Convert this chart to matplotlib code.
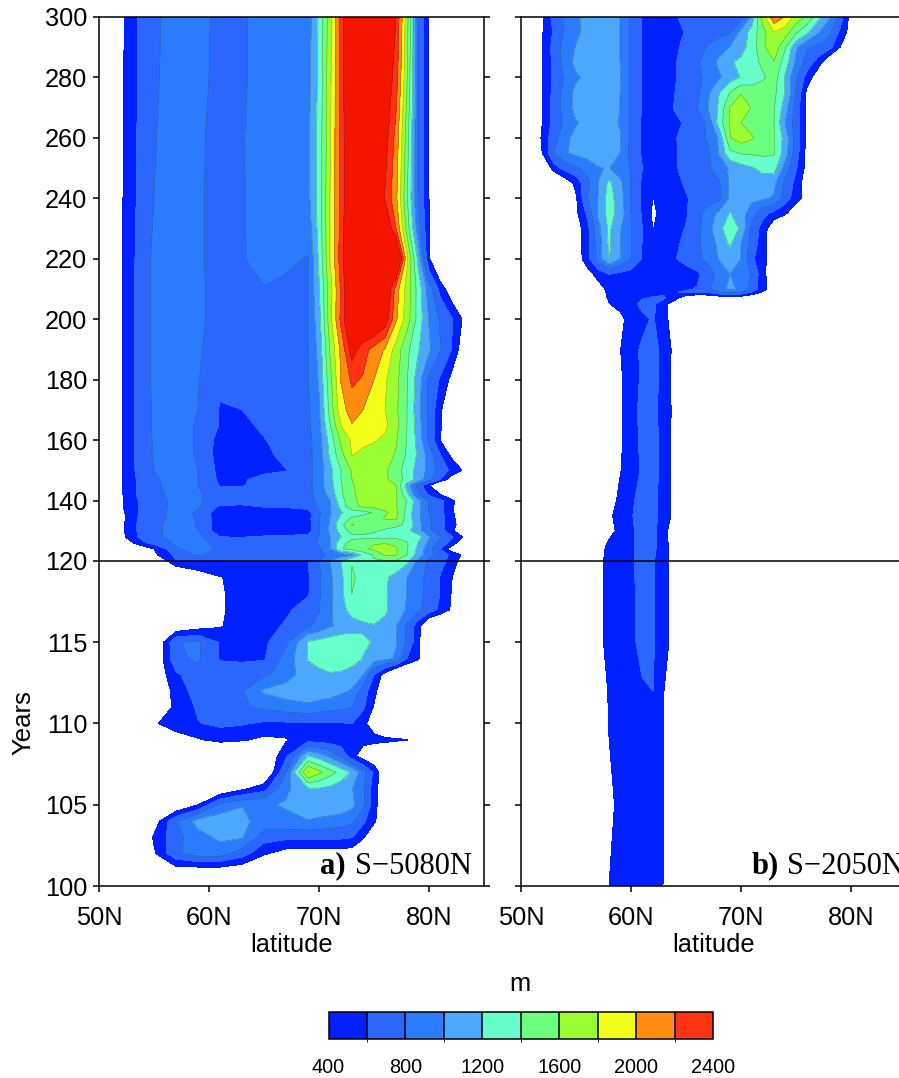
import numpy as np
import matplotlib
matplotlib.use('Agg')
import matplotlib.pyplot as plt
from matplotlib.cm import ScalarMappable
from matplotlib.colors import BoundaryNorm, ListedColormap

plt.rcParams['font.family'] = ['Liberation Sans', 'DejaVu Sans']

levels = [400, 600, 800, 1000, 1200, 1400, 1600, 1800, 2000, 2200, 2400]
colors = ['#0020ff', '#2a66ff', '#2b7bff', '#4ca8ff', '#66ffcc', '#6cff7e',
          '#99ff33', '#f2ff1a', '#ff8c0d', '#ff3312']
over_color = '#f51400'
ytick_vals = [100, 105, 110, 115, 120, 140, 160, 180, 200, 220, 240, 260, 280, 300]
xtick_vals = [50, 60, 70, 80]
xtick_labels = ['50N', '60N', '70N', '80N']

# panel a, depth (m) by year and latitude, rows may stop early (rest is 0)
lat_a = [50.5, 52, 53.5, 55, 57, 59, 61, 63, 65, 67, 69, 70, 71, 72, 73, 74, 75,
         76, 77, 78, 79, 80, 81, 82, 83, 84]
years_a = [100, 101, 102, 103, 104, 105, 106, 107, 108, 109, 110, 111, 112, 113, 114,
           115, 116, 117, 118, 119, 120, 122, 124, 126, 128, 130, 132, 134, 136, 138,
           140, 142, 145, 147, 150, 155, 160, 165, 170, 180, 190, 200, 210, 220, 230,
           240, 260, 280, 300]
depth_a = [
    [],
    [0, 0, 0, 200, 300, 300, 300, 250, 100],
    [0, 0, 0, 370, 760, 900, 900, 700, 430, 300, 300, 300, 300, 300, 280, 150],
    [0, 0, 100, 430, 740, 920, 1040, 1020, 700, 650, 650, 650, 650, 640, 610, 430, 200],
    [0, 0, 50, 270, 780, 1080, 1120, 1060, 900, 950, 990, 960, 930, 900, 850, 650, 440, 200],
    [0, 0, 0, 0, 150, 400, 850, 990, 970, 1020, 1120, 1140, 1150, 1130, 1050, 850, 480, 200],
    [0, 0, 0, 0, 0, 0, 150, 350, 520, 950, 1180, 1190, 1150, 1090, 1010, 830, 500, 200],
    [0, 0, 0, 0, 0, 0, 0, 0, 100, 800, 1830, 1650, 1480, 1330, 1170, 870, 560, 200],
    [0, 0, 0, 0, 0, 0, 0, 0, 150, 560, 1210, 1100, 950, 760, 480, 280, 200, 150, 100],
    [0, 0, 0, 0, 320, 380, 470, 430, 350, 380, 520, 500, 500, 480, 470, 470, 460, 450, 430, 410, 300],
    [0, 0, 0, 380, 480, 590, 640, 620, 570, 570, 570, 580, 580, 590, 600, 450, 300, 100],
    [0, 0, 0, 200, 450, 630, 720, 770, 840, 900, 950, 900, 870, 840, 800, 640, 380, 100],
    [0, 0, 0, 100, 500, 680, 730, 790, 1030, 1100, 1140, 1130, 1100, 1040, 980, 700, 480, 150],
    [0, 0, 0, 200, 560, 740, 720, 730, 760, 900, 1120, 1150, 1180, 1160, 1100, 1000, 600, 300],
    [0, 0, 0, 150, 760, 830, 580, 560, 580, 880, 1210, 1270, 1320, 1340, 1300, 1190, 1100, 1050, 980, 600, 440, 100],
    [0, 0, 0, 100, 790, 830, 580, 560, 560, 760, 1220, 1270, 1310, 1340, 1300, 1240, 1180, 1120, 1010, 770, 460, 100],
    [0, 0, 0, 0, 200, 300, 380, 520, 540, 620, 780, 850, 980, 1050, 1120, 1160, 1190, 1130, 1010, 770, 480, 100],
    [0, 0, 0, 0, 0, 0, 370, 480, 520, 570, 680, 790, 970, 1130, 1270, 1310, 1290, 1240, 1090, 980, 850, 700, 560, 380],
    [0, 0, 0, 0, 0, 0, 380, 460, 490, 530, 580, 780, 950, 1150, 1400, 1340, 1290, 1220, 1110, 1000, 870, 730, 600, 400],
    [0, 0, 0, 0, 0, 250, 390, 470, 520, 540, 580, 770, 960, 1150, 1420, 1350, 1300, 1230, 1130, 1000, 870, 740, 590, 450],
    [0, 0, 0, 100, 590, 600, 600, 600, 600, 590, 590, 800, 1000, 1200, 1390, 1390, 1380, 1380, 1380, 1250, 950, 760, 670, 540, 300],
    [0, 0, 50, 350, 650, 830, 720, 700, 700, 700, 660, 760, 830, 900, 980, 1250, 1430, 1620, 1620, 1400, 1120, 870, 720, 560, 380, 100],
    [0, 0, 150, 400, 770, 900, 760, 720, 720, 720, 720, 770, 980, 1380, 1480, 1560, 1640, 1690, 1620, 1420, 1150, 880, 600, 300],
    [0, 100, 500, 680, 830, 870, 730, 720, 720, 720, 740, 820, 1000, 1320, 1480, 1540, 1580, 1590, 1570, 1420, 1200, 950, 750, 550, 250],
    [100, 330, 600, 740, 890, 860, 600, 590, 620, 630, 660, 800, 1000, 1190, 1330, 1340, 1340, 1340, 1330, 1320, 1280, 1020, 820, 640, 420, 100],
    [100, 340, 610, 750, 880, 800, 480, 470, 480, 490, 520, 790, 1030, 1280, 1490, 1500, 1430, 1370, 1320, 1260, 1070, 840, 680, 500, 150],
    [110, 340, 610, 750, 880, 790, 470, 460, 470, 480, 520, 800, 1020, 1340, 1610, 1560, 1500, 1480, 1450, 1360, 1070, 830, 650, 530, 250],
    [110, 330, 600, 730, 860, 790, 470, 460, 470, 490, 530, 790, 1000, 1250, 1440, 1500, 1540, 1610, 1620, 1320, 1050, 830, 660, 520, 200],
    [120, 340, 590, 720, 860, 780, 470, 480, 500, 500, 530, 770, 980, 1180, 1280, 1330, 1420, 1580, 1650, 1320, 1050, 800, 650, 500, 100],
    [130, 370, 590, 710, 860, 830, 570, 570, 610, 620, 660, 830, 980, 1250, 1560, 1620, 1640, 1660, 1620, 1370, 1050, 790, 640, 510, 100],
    [130, 370, 590, 710, 860, 830, 700, 680, 700, 710, 720, 860, 990, 1320, 1570, 1640, 1660, 1680, 1620, 1390, 1060, 780, 640, 500, 150],
    [130, 370, 620, 740, 860, 830, 680, 680, 700, 710, 730, 880, 1060, 1360, 1580, 1640, 1680, 1700, 1630, 1250, 830, 560, 420, 100],
    [130, 370, 620, 760, 880, 800, 590, 590, 650, 700, 730, 910, 1120, 1380, 1590, 1640, 1640, 1660, 1600, 1100, 740, 410],
    [130, 370, 620, 770, 880, 800, 560, 570, 680, 710, 730, 920, 1130, 1400, 1600, 1650, 1650, 1640, 1500, 1330, 1120, 880, 620, 300],
    [130, 380, 640, 800, 890, 800, 540, 540, 540, 590, 730, 890, 1130, 1400, 1620, 1680, 1680, 1640, 1480, 1320, 1120, 940, 720, 560, 400, 100],
    [130, 380, 640, 820, 890, 780, 510, 510, 530, 680, 740, 900, 1230, 1530, 1810, 1720, 1700, 1680, 1580, 1370, 1170, 910, 620, 370],
    [130, 380, 640, 820, 880, 780, 520, 500, 590, 680, 740, 910, 1280, 1640, 1830, 1880, 1820, 1760, 1620, 1390, 1140, 760, 400],
    [130, 380, 640, 830, 880, 780, 590, 550, 640, 700, 760, 950, 1390, 1810, 1990, 1970, 1900, 1850, 1660, 1400, 1100, 750, 470],
    [130, 380, 640, 830, 880, 800, 585, 600, 680, 720, 770, 970, 1470, 1930, 2080, 2000, 1900, 1800, 1640, 1400, 1080, 740, 470],
    [130, 380, 640, 840, 880, 810, 640, 640, 690, 740, 790, 1020, 1530, 2010, 2240, 2180, 2000, 1830, 1660, 1410, 1100, 760, 580, 350],
    [130, 380, 640, 840, 880, 820, 720, 700, 720, 750, 800, 1060, 1620, 2050, 2500, 2280, 2130, 1980, 1720, 1450, 1220, 1030, 820, 610, 300],
    [130, 380, 640, 840, 880, 830, 740, 720, 730, 760, 800, 1120, 1720, 2250, 2750, 2800, 2750, 2550, 2030, 1700, 1330, 990, 780, 640, 400],
    [130, 380, 640, 840, 880, 830, 740, 730, 795, 770, 800, 1180, 1710, 2230, 2720, 2800, 2800, 2750, 2100, 1720, 1330, 890, 540, 250],
    [130, 380, 640, 840, 880, 830, 730, 790, 850, 830, 790, 1230, 1800, 2300, 2800, 2900, 2900, 2900, 2950, 1850, 1150, 430],
    [130, 380, 630, 820, 880, 830, 730, 790, 860, 880, 880, 1270, 1800, 2280, 2760, 2850, 2850, 2700, 2200, 1520, 900, 420],
    [130, 370, 620, 800, 880, 830, 730, 790, 860, 880, 940, 1280, 1800, 2260, 2720, 2800, 2600, 2380, 2050, 1420, 800, 400],
    [130, 360, 610, 790, 880, 830, 740, 790, 870, 890, 950, 1270, 1770, 2280, 2700, 2800, 2700, 2500, 2130, 1500, 800, 400],
    [130, 360, 600, 770, 890, 850, 750, 780, 860, 890, 930, 1250, 1750, 2280, 2750, 2800, 2750, 2600, 2300, 1620, 800, 400],
    [100, 350, 600, 760, 890, 850, 760, 780, 860, 900, 900, 1230, 1720, 2300, 2800, 2800, 2750, 2700, 2400, 1680, 800, 400],
]

# panel b, 1 degree columns from 51N to 81N
lat_b = list(range(51, 82))
years_b = [100, 105, 110, 112, 115, 120, 125, 130, 135, 140, 150, 160, 170, 180, 190, 200,
           205, 207, 209, 210, 215, 220, 225, 230, 235, 240, 245, 250, 255, 260, 265, 270,
           275, 280, 285, 290, 295, 300]
depth_b = [
    [0, 0, 0, 0, 0, 0, 0, 400, 470, 500, 520, 500, 390],
    [0, 0, 0, 0, 0, 0, 0, 300, 500, 520, 550, 540, 390],
    [0, 0, 0, 0, 0, 0, 0, 420, 480, 530, 570, 580, 390],
    [0, 0, 0, 0, 0, 0, 100, 440, 490, 540, 580, 600, 400],
    [0, 0, 0, 0, 0, 0, 300, 500, 530, 560, 650, 620, 480, 300],
    [0, 0, 0, 0, 0, 0, 320, 480, 540, 580, 640, 620, 480, 300],
    [0, 0, 0, 0, 0, 0, 250, 470, 530, 580, 640, 650, 490, 250],
    [0, 0, 0, 0, 0, 0, 0, 300, 480, 580, 640, 650, 500, 200],
    [0, 0, 0, 0, 0, 0, 0, 350, 500, 590, 650, 660, 510, 330],
    [0, 0, 0, 0, 0, 0, 0, 250, 470, 580, 640, 670, 510, 330],
    [0, 0, 0, 0, 0, 0, 0, 0, 380, 560, 610, 680, 510, 330],
    [0, 0, 0, 0, 0, 0, 0, 0, 350, 560, 620, 680, 510, 330],
    [0, 0, 0, 0, 0, 0, 0, 0, 350, 570, 620, 670, 510, 340],
    [0, 0, 0, 0, 0, 0, 0, 0, 350, 570, 610, 680, 510, 320],
    [0, 0, 0, 0, 0, 0, 0, 0, 390, 550, 620, 690, 510, 340],
    [0, 0, 0, 0, 0, 0, 0, 0, 330, 500, 560, 620, 470, 270],
    [0, 0, 0, 0, 0, 0, 200, 390, 470, 540, 640, 640, 480, 250, 0, 50, 100, 150, 200, 150, 100, 50],
    [0, 0, 0, 0, 0, 0, 250, 430, 500, 550, 590, 610, 620, 480, 250, 150, 160, 200, 280, 220, 150, 80],
    [0, 0, 0, 0, 0, 0, 280, 450, 510, 540, 560, 570, 570, 590, 620, 620, 640, 800, 900, 820, 600, 380, 150],
    [0, 0, 0, 0, 0, 0, 300, 460, 520, 540, 560, 560, 550, 550, 580, 610, 770, 920, 1040, 960, 720, 480, 250],
    [0, 0, 0, 0, 0, 300, 480, 610, 560, 520, 500, 500, 500, 500, 520, 560, 700, 860, 1000, 1000, 760, 470, 200],
    [0, 0, 0, 0, 250, 520, 880, 1210, 1000, 800, 600, 510, 510, 590, 660, 760, 860, 1010, 1060, 1000, 640, 460, 250],
    [0, 0, 0, 0, 270, 520, 900, 1230, 1010, 810, 600, 500, 500, 560, 650, 760, 880, 1050, 1230, 1000, 720, 480, 200],
    [0, 0, 0, 0, 280, 520, 920, 1240, 1020, 810, 610, 395, 460, 550, 610, 740, 920, 1150, 1300, 1170, 730, 520, 200],
    [0, 0, 0, 0, 350, 630, 1030, 1280, 1120, 800, 580, 365, 470, 530, 580, 720, 900, 1040, 1210, 1090, 890, 660, 540, 440, 200],
    [0, 0, 0, 0, 370, 790, 1000, 1290, 1090, 800, 570, 395, 480, 540, 580, 680, 700, 760, 1030, 1050, 1040, 1030, 980, 700, 500, 300],
    [0, 0, 0, 250, 460, 730, 1000, 1240, 1060, 800, 570, 490, 510, 540, 630, 690, 740, 780, 1040, 1080, 1090, 1100, 1040, 760, 540, 250],
    [0, 100, 510, 680, 770, 880, 990, 1010, 870, 790, 610, 500, 510, 580, 660, 730, 770, 880, 1030, 1120, 1180, 1260, 1280, 920, 620, 320],
    [0, 430, 800, 980, 1050, 1080, 1080, 1040, 1000, 740, 580, 510, 510, 590, 630, 690, 760, 1010, 1350, 1420, 1430, 1440, 1420, 1100, 700, 330],
    [100, 470, 720, 950, 1060, 1080, 1080, 1040, 1010, 760, 570, 500, 510, 590, 650, 710, 830, 1030, 1590, 1700, 1620, 1500, 1420, 1120, 720, 340],
    [100, 420, 680, 840, 980, 1060, 1060, 1040, 990, 760, 580, 490, 490, 550, 630, 700, 840, 1290, 1620, 1600, 1510, 1490, 1400, 1000, 700, 340],
    [100, 420, 680, 880, 1070, 1090, 1080, 1040, 1000, 760, 590, 490, 480, 620, 680, 790, 1000, 1230, 1610, 1680, 1590, 1500, 1410, 1100, 720, 340],
    [100, 410, 670, 880, 1060, 1080, 1080, 1040, 1000, 760, 590, 490, 490, 600, 660, 750, 960, 1190, 1410, 1590, 1510, 1510, 1450, 1200, 800, 350],
    [100, 400, 650, 820, 960, 1060, 1060, 1040, 1010, 760, 590, 490, 490, 590, 660, 740, 860, 970, 1100, 1210, 1290, 1370, 1500, 1180, 830, 520, 250],
    [100, 410, 660, 880, 1060, 1080, 1080, 1040, 1000, 760, 590, 490, 490, 590, 660, 770, 890, 1040, 1170, 1250, 1320, 1450, 1590, 1300, 960, 720, 510, 200],
    [100, 420, 680, 880, 1010, 1090, 1080, 1040, 1000, 760, 590, 490, 490, 580, 630, 710, 820, 920, 1010, 1110, 1300, 1550, 1740, 1430, 1030, 820, 760, 680, 400],
    [100, 400, 630, 830, 960, 1060, 1060, 1040, 1000, 760, 590, 490, 490, 560, 610, 660, 690, 730, 780, 1050, 1290, 1530, 1800, 1710, 1440, 1240, 1020, 860, 560, 300],
    [100, 400, 680, 830, 950, 1060, 1060, 1040, 1000, 760, 590, 490, 490, 590, 630, 660, 690, 720, 760, 720, 1050, 1720, 2150, 1980, 1730, 1560, 1260, 1030, 730, 300],
]


def to_grid(rows, ncol):
    return np.array([r + [0] * (ncol - len(r)) for r in rows], dtype=float)


# y axis: 100-120 is stretched, 120-300 compressed
def y_forward(y):
    y = np.asarray(y, dtype=float)
    return np.where(y <= 120, (y - 100) * 16.25, 325 + (y - 120) * 3.022)


def y_inverse(v):
    v = np.asarray(v, dtype=float)
    return np.where(v <= 325, 100 + v / 16.25, 120 + (v - 325) / 3.022)


W, H = 899, 1078
fig = plt.figure(figsize=(W / 100, H / 100), dpi=100)


def px_axes(x0, y0, x1, y1):
    return fig.add_axes([x0 / W, 1 - y1 / H, (x1 - x0) / W, (y1 - y0) / H])


def panel(ax, lats, years, depth):
    z = to_grid(depth, len(lats))
    ax.contourf(lats, years, z, levels=levels + [6000], colors=colors + [over_color])
    ax.contour(lats, years, z, levels=levels[2:], colors='#303030', linewidths=0.35, alpha=0.55)
    ax.axhline(120, color='black', lw=1.1, zorder=5)
    ax.set_xlim(50, 85)
    ax.set_ylim(100, 300)
    ax.set_yscale('function', functions=(y_forward, y_inverse))
    ax.set_yticks(ytick_vals)
    ax.minorticks_off()
    ax.set_xticks(xtick_vals)
    ax.set_xticklabels(xtick_labels, fontsize=18.3)
    ax.tick_params(axis='both', length=4.5, width=1.1, direction='out')
    ax.tick_params(axis='x', pad=10)
    ax.tick_params(axis='y', right=True, pad=4)
    ax.set_xlabel('latitude', fontsize=18.3, labelpad=2)
    for s in ax.spines.values():
        s.set_linewidth(1.1)


ax1 = px_axes(99, 17, 484, 886)
panel(ax1, lat_a, years_a, depth_a)
ax1.set_yticklabels([str(v) for v in ytick_vals], fontsize=18.3)
ax1.set_ylabel('Years', fontsize=18.5)
ax1.yaxis.set_label_coords(-0.166, 0.188)

ax2 = px_axes(521, 17, 906, 886)
panel(ax2, lat_b, years_b, depth_b)
ax2.set_yticklabels([])

# panel tags
serif = ['Liberation Serif', 'DejaVu Serif']
for x_bold, x_reg, tag, name in [(320, 355, 'a)', 'S\u22125080N'), (752, 787, 'b)', 'S\u22122050N')]:
    fig.text(x_bold / W, 1 - 866 / H, tag, family=serif, weight='bold', fontsize=22,
             ha='left', va='center')
    fig.text(x_reg / W, 1 - 866 / H, name, family=serif, fontsize=22, ha='left', va='center')

# colour bar
cax = px_axes(328.5, 1012, 713, 1039)
cmap = ListedColormap(colors)
norm = BoundaryNorm(levels, cmap.N)
cb = fig.colorbar(ScalarMappable(norm=norm, cmap=cmap), cax=cax, orientation='horizontal',
                  drawedges=True, ticks=levels[::2])
cb.ax.tick_params(length=0, pad=14, labelsize=14.3)
cb.dividers.set_color('black')
cb.dividers.set_linewidth(1.1)
cb.outline.set_linewidth(1.1)
cb.set_ticklabels([str(v) for v in levels[::2]])
fig.text(520 / W, 1 - 984 / H, 'm', fontsize=18.3, ha='center', va='center')

fig.savefig('out.png', dpi=100)
